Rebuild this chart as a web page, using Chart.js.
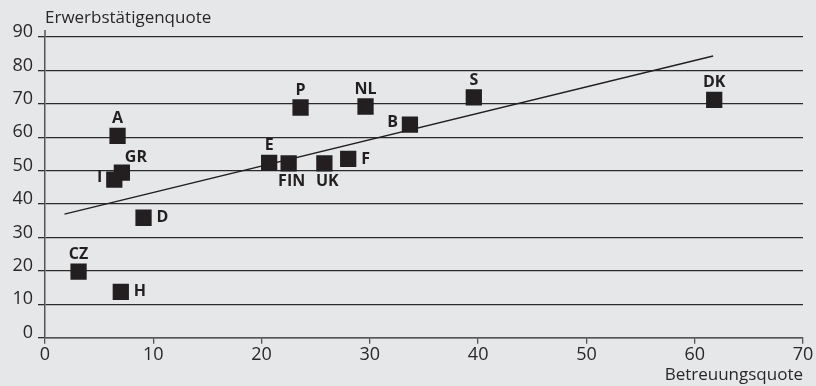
<!DOCTYPE html>
<html>
<head>
<meta charset="utf-8">
<script src="https://cdn.jsdelivr.net/npm/chart.js@4.4.1/dist/chart.umd.min.js"></script>
<style>
    body { margin: 0; background: #e6e7e8; }
    #chart { display: block; background: #e6e7e8; }
</style>
</head>
<body>
<canvas id="chart" width="816" height="386"></canvas>
<script>
// Länder, Betreuungsquote (x), Erwerbstätigenquote (y)
const countries = ['A', 'GR', 'I', 'D', 'CZ', 'H', 'E', 'FIN', 'UK', 'F', 'P', 'NL', 'B', 'S', 'DK'];
const betreuung = [6.7, 7.1, 6.4, 9.1, 3.1, 7.0, 20.7, 22.5, 25.8, 28.0, 23.6, 29.6, 33.7, 39.6, 61.8];
const erwerb = [60.4, 49.4, 47.3, 35.9, 19.8, 13.7, 52.3, 52.2, 52.2, 53.5, 68.9, 69.2, 63.8, 71.9, 71.2];

// Trendlinie (Anfang / Ende)
const trendX = [1.8, 61.7];
const trendY = [37.0, 84.3];

const xTicks = [0, 10, 20, 30, 40, 50, 60, 70];
const yTicks = [0, 10, 20, 30, 40, 50, 60, 70, 80, 90];

const xTitle = 'Betreuungsquote';
const yTitle = 'Erwerbstätigenquote';

// wo steht das Kürzel neben dem Quadrat
const placement = {
    A: 'above', GR: 'aboveRight', I: 'left', D: 'right', CZ: 'above', H: 'right',
    E: 'above', FIN: 'below', UK: 'below', F: 'right', P: 'above', NL: 'above',
    B: 'left', S: 'above', DK: 'above'
};

const ink = '#231f20';
const textColor = '#2a2728';
const font = '"Open Sans", "Noto Sans", sans-serif';

const labelPlugin = {
    id: 'labels',
    beforeDatasetsDraw(chart) {
        // y-Achse ragt etwas über die 90er-Linie hinaus
        const ctx = chart.ctx;
        const ys = chart.scales.y;
        ctx.save();
        ctx.strokeStyle = '#555555';
        ctx.lineWidth = 1.5;
        ctx.beginPath();
        ctx.moveTo(ys.right, ys.top - 7);
        ctx.lineTo(ys.right, ys.top);
        ctx.stroke();
        ctx.restore();
    },
    afterDatasetsDraw(chart) {
        const ctx = chart.ctx;
        const xs = chart.scales.x;
        const ys = chart.scales.y;
        ctx.save();
        ctx.fillStyle = ink;
        ctx.font = 'bold 16px ' + font;
        ctx.textBaseline = 'middle';
        countries.forEach((c, i) => {
            const px = xs.getPixelForValue(betreuung[i]);
            const py = ys.getPixelForValue(erwerb[i]);
            switch (placement[c]) {
                case 'above':
                    ctx.textAlign = 'center';
                    ctx.fillText(c, px, py - 17.5);
                    break;
                case 'below':
                    ctx.textAlign = 'center';
                    ctx.fillText(c, px + 3, py + 18);
                    break;
                case 'right':
                    ctx.textAlign = 'left';
                    ctx.fillText(c, px + 13, py);
                    break;
                case 'left':
                    ctx.textAlign = 'right';
                    ctx.fillText(c, px - 12, py - 2);
                    break;
                case 'aboveRight':
                    ctx.textAlign = 'center';
                    ctx.fillText(c, px + 14, py - 15);
                    break;
            }
        });

        ctx.fillStyle = textColor;
        ctx.font = '17px ' + font;
        ctx.textBaseline = 'alphabetic';
        ctx.textAlign = 'left';
        ctx.fillText(yTitle, xs.left, 22.5);
        ctx.textAlign = 'right';
        ctx.fillText(xTitle, xs.right, 379.5);
        ctx.restore();
    }
};

new Chart(document.getElementById('chart'), {
    type: 'scatter',
    data: {
        datasets: [{
            data: countries.map((c, i) => ({ x: betreuung[i], y: erwerb[i] })),
            pointStyle: 'rect',
            pointRadius: 11.5,
            backgroundColor: ink,
            borderWidth: 0,
            order: 0
        }, {
            type: 'line',
            data: trendX.map((x, i) => ({ x: x, y: trendY[i] })),
            borderColor: ink,
            borderWidth: 1.4,
            pointRadius: 0,
            fill: false,
            order: 1
        }]
    },
    options: {
        responsive: false,
        animation: false,
        events: [],
        layout: { padding: { top: 37, right: 13, left: 0, bottom: 0 } },
        plugins: {
            legend: { display: false },
            tooltip: { enabled: false }
        },
        scales: {
            x: {
                type: 'linear',
                min: 0,
                max: 70,
                afterBuildTicks: (scale) => { scale.ticks = xTicks.map(v => ({ value: v })); },
                afterFit: (scale) => { scale.height = 48.3; },
                ticks: { color: textColor, font: { family: font, size: 18 }, padding: 0, maxRotation: 0 },
                grid: { drawOnChartArea: false, drawTicks: true, tickLength: 6, color: '#555555', lineWidth: 1.3 },
                border: { color: '#555555', width: 1.5 }
            },
            y: {
                type: 'linear',
                min: 0,
                max: 90,
                afterBuildTicks: (scale) => { scale.ticks = yTicks.map(v => ({ value: v })); },
                afterFit: (scale) => { scale.width = 45; },
                ticks: { color: textColor, font: { family: font, size: 18 }, padding: 5, labelOffset: -5 },
                grid: { color: '#2b2b2b', lineWidth: 1.3, drawTicks: true, tickLength: 7 },
                border: { color: '#555555', width: 1.5 }
            }
        }
    },
    plugins: [labelPlugin]
});
</script>
</body>
</html>
